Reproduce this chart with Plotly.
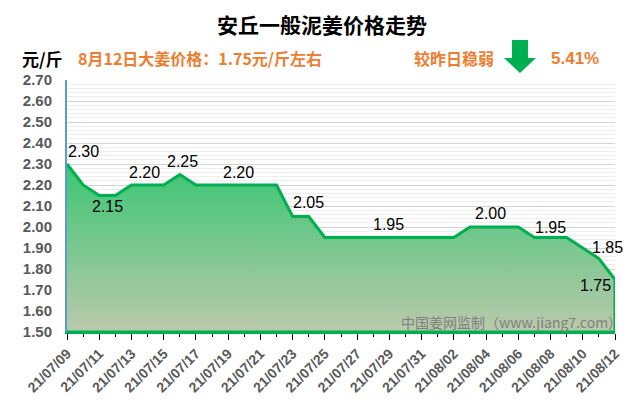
import pandas as pd
import plotly.graph_objects as go

# ---------------- data ----------------
DATES = list(pd.date_range("2021-07-09", "2021-08-12", freq="D"))
PRICES = [
    2.30, 2.20, 2.15, 2.15, 2.20, 2.20, 2.20, 2.25, 2.20, 2.20,   # 07/09-07/18
    2.20, 2.20, 2.20, 2.20, 2.05, 2.05, 1.95, 1.95, 1.95, 1.95,   # 07/19-07/28
    1.95, 1.95, 1.95, 1.95, 1.95, 2.00, 2.00, 2.00, 2.00, 1.95,   # 07/29-08/07
    1.95, 1.95, 1.90, 1.85, 1.75,                                 # 08/08-08/12
]
LABEL_DAYS = ["2021-07-09", "2021-07-11", "2021-07-14", "2021-07-16", "2021-07-20",
              "2021-07-24", "2021-07-29", "2021-08-04", "2021-08-08", "2021-08-11",
              "2021-08-12"]
Y_MIN, Y_MAX = 1.50, 2.70

TITLE = "安丘一般泥姜价格走势"
UNIT = "元/斤"
INFO = "8月12日大姜价格：1.75元/斤左右"
CHANGE_TEXT = "较昨日稳弱"
CHANGE_PCT = "5.41%"
WATERMARK = "中国姜网监制（www.jiang7.com）"

# ---------------- layout geometry ----------------
W, H = 640, 410
L, R, T, B = 67, 25, 80, 78
PW, PH = W - L - R, H - T - B

def px(x):
    return (x - L) / PW

def py(y):
    return (H - B - y) / PH

FONT = "Liberation Sans, Arial, Noto Sans CJK SC, sans-serif"
CJK = "Noto Sans CJK SC, Liberation Sans, sans-serif"
GREEN = "#00B050"
ORANGE = "#ED7D31"

fig = go.Figure()

# filled area polygon (data + axis floor)
poly_x = DATES + [DATES[-1], DATES[0]]
poly_y = PRICES + [Y_MIN, Y_MIN]
fig.add_trace(go.Scatter(
    x=poly_x, y=poly_y, mode="lines", fill="toself",
    line=dict(color=GREEN, width=3),
    fillgradient=dict(type="vertical", start=Y_MIN, stop=max(PRICES),
                      colorscale=[[0, "#BBC9AC"], [1, "#3AC674"]]),
    hoverinfo="skip", showlegend=False,
))

# data labels
offsets = {
    "2021-07-09": (16, 13), "2021-07-11": (8, -11), "2021-07-14": (-3, 13),
    "2021-07-16": (3, 13), "2021-07-20": (-6, 13), "2021-07-24": (0, 14),
    "2021-07-29": (-1, 13), "2021-08-04": (4, 14), "2021-08-08": (0, 10),
    "2021-08-11": (9, 11), "2021-08-12": (-20, -6),
}
date_index = {d.strftime("%Y-%m-%d"): i for i, d in enumerate(DATES)}
annotations = []
for d in LABEL_DAYS:
    i = date_index[d]
    dx, dy = offsets[d]
    annotations.append(dict(
        x=DATES[i], y=PRICES[i], xref="x", yref="y", text=f"{PRICES[i]:.2f}",
        showarrow=False, xanchor="center", yanchor="middle", xshift=dx, yshift=dy,
        font=dict(family=FONT, size=16, color="#000000"),
    ))

# header texts
annotations += [
    dict(x=px(322), y=py(24), xref="paper", yref="paper", text=TITLE, showarrow=False,
         xanchor="center", yanchor="middle",
         font=dict(family=CJK, size=21, color="#000000", weight="bold")),
    dict(x=px(20), y=py(58), xref="paper", yref="paper", text=UNIT, showarrow=False,
         xanchor="left", yanchor="middle",
         font=dict(family=CJK, size=17, color="#000000", weight="bold")),
    dict(x=px(76), y=py(58), xref="paper", yref="paper", text=INFO, showarrow=False,
         xanchor="left", yanchor="middle",
         font=dict(family=CJK, size=16, color=ORANGE, weight="bold")),
    dict(x=px(412), y=py(58), xref="paper", yref="paper", text=CHANGE_TEXT, showarrow=False,
         xanchor="left", yanchor="middle",
         font=dict(family=CJK, size=16, color=ORANGE, weight="bold")),
    dict(x=px(549), y=py(58), xref="paper", yref="paper", text=CHANGE_PCT, showarrow=False,
         xanchor="left", yanchor="middle",
         font=dict(family=FONT, size=17, color=ORANGE, weight="bold")),
    dict(x=px(624), y=py(322), xref="paper", yref="paper", text=WATERMARK, showarrow=False,
         xanchor="right", yanchor="middle",
         font=dict(family=CJK, size=14, color="#808080")),
]

# down arrow decoration
ax = [512, 528, 528, 536, 520, 504, 512]
ay = [40, 40, 58, 58, 73, 58, 58]
path = "M " + " L ".join(f"{px(a):.4f},{py(b):.4f}" for a, b in zip(ax, ay)) + " Z"
shapes = [dict(type="path", path=path, xref="paper", yref="paper",
               fillcolor=GREEN, line=dict(width=0))]

fig.update_layout(
    width=W, height=H,
    margin=dict(l=L, r=R, t=T, b=B),
    paper_bgcolor="white", plot_bgcolor="white",
    annotations=annotations, shapes=shapes,
    showlegend=False,
    xaxis=dict(
        type="date", range=[DATES[0], DATES[-1]],
        tick0=DATES[0], dtick=2 * 86400000, tickformat="%y/%m/%d",
        tickangle=-45, ticks="outside", ticklen=6, tickcolor="#000000", tickwidth=1,
        minor=dict(dtick=86400000, tick0=DATES[0], ticks="outside", ticklen=3,
                   tickcolor="#000000", showgrid=False),
        showline=True, linecolor=GREEN, linewidth=2,
        showgrid=False, zeroline=False,
        tickfont=dict(family=FONT, size=14, color="#595959", weight="bold"),
    ),
    yaxis=dict(
        range=[Y_MIN, Y_MAX], dtick=0.1, tick0=Y_MIN, tickformat=".2f",
        showgrid=True, gridcolor="#D4D4D4", gridwidth=1,
        minor=dict(dtick=0.02, showgrid=True, gridcolor="#EEEEEE", gridwidth=1),
        showline=True, linecolor="#5B9BD5", linewidth=2,
        zeroline=False, ticks="", ticklabelstandoff=10,
        tickfont=dict(family=FONT, size=15, color="#595959", weight="bold"),
    ),
)

fig.write_html("out.html")
